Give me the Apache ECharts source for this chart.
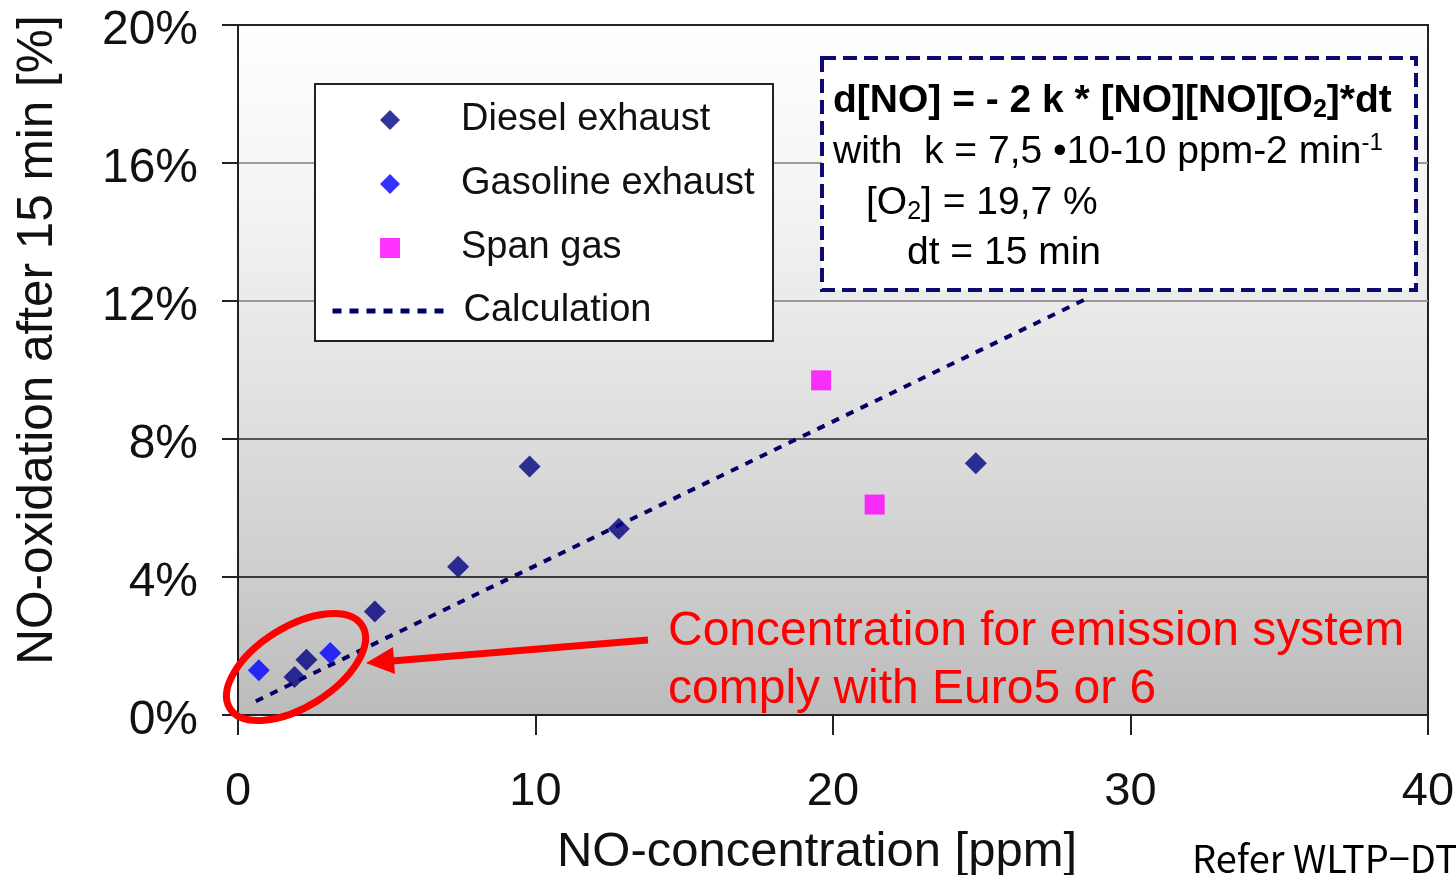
<!DOCTYPE html>
<html><head><meta charset="utf-8">
<script src="https://cdn.jsdelivr.net/npm/echarts@6/dist/echarts.min.js"></script>
<style>html,body{margin:0;padding:0;background:#fff;} #c{width:1456px;height:875px;}</style>
</head><body><div id="c"></div>
<script>
// ---- data ----
const dieselX = [1.9, 2.3, 4.6, 7.4, 9.8, 12.8, 24.8];
const dieselY = [1.1, 1.6, 3.0, 4.3, 7.2, 5.4, 7.3];
const gasolineX = [0.7, 3.1];
const gasolineY = [1.3, 1.8];
const spanX = [19.6, 21.4];
const spanY = [9.7, 6.1];
const calcX = [0.6, 28.6];
const calcY = [0.4, 12.1];
const seriesNames = ['Diesel exhaust', 'Gasoline exhaust', 'Span gas', 'Calculation'];
const xName = 'NO-concentration [ppm]';
const yName = 'NO-oxidation after 15 min [%]';

const FONT = '"Liberation Sans", Arial, sans-serif';
const pairs = (xs, ys) => xs.map((x, i) => [x, ys[i]]);

const chart = echarts.init(document.getElementById('c'), null, {renderer: 'canvas'});
const gridBg = new echarts.graphic.LinearGradient(0, 0, 0, 1, [
  {offset: 0, color: '#ffffff'},
  {offset: 0.25, color: '#f4f4f4'},
  {offset: 0.5, color: '#e4e4e4'},
  {offset: 0.78, color: '#cfcfcf'},
  {offset: 1, color: '#bbbbbb'}
]);
const legendText = {fontSize: 38, color: '#111', lineHeight: 40};

const option = {
  animation: false,
  textStyle: {fontFamily: FONT},
  grid: {left: 238, right: 28, top: 25, bottom: 160, show: true, outerBoundsMode: 'none', containLabel: false,
         backgroundColor: gridBg, borderColor: '#222', borderWidth: 2},
  xAxis: {
    type: 'value', min: 0, max: 40, interval: 10,
    name: xName, nameLocation: 'middle', nameGap: 113,
    nameTextStyle: {fontSize: 49, color: '#111', padding: [0, 32, 0, 0]},
    axisLine: {lineStyle: {color: '#222', width: 2}},
    axisTick: {show: true, length: 20, lineStyle: {color: '#222', width: 2}},
    axisLabel: {fontSize: 47, color: '#111', margin: 54},
    splitLine: {show: false}
  },
  yAxis: {
    type: 'value', min: 0, max: 20, interval: 4,
    name: yName, nameLocation: 'middle', nameRotate: 90, nameGap: 175,
    nameTextStyle: {fontSize: 49.5, color: '#111', padding: [0, 0, 0, 60]},
    axisLine: {show: true, lineStyle: {color: '#222', width: 2}},
    axisTick: {show: true, length: 16, lineStyle: {color: '#222', width: 2}},
    axisLabel: {color: '#111', margin: 40, formatter: '{v|{value}%}',
                rich: {v: {fontSize: 48, color: '#111', fontFamily: FONT, padding: [12, 0, 0, 0]}}},
    splitLine: {show: true, lineStyle: {color: ['#333', '#3a3a3a', '#555', '#999', '#9a9a9a', '#222'], width: 2}}
  },
  legend: [
    {
      orient: 'vertical', left: 380, top: 100, padding: 0,
      itemWidth: 20, itemHeight: 20, itemGap: 24,
      textStyle: Object.assign({padding: [0, 0, 0, 56]}, legendText),
      data: [
        {name: seriesNames[0], icon: 'diamond'},
        {name: seriesNames[1], icon: 'diamond'},
        {name: seriesNames[2], icon: 'rect'}
      ],
      selectedMode: false, z: 10
    },
    {
      orient: 'vertical', left: 330, top: 291, padding: 0,
      itemWidth: 115, itemHeight: 16,
      textStyle: Object.assign({padding: [0, 0, 0, 11]}, legendText),
      data: [
        {name: seriesNames[3], itemStyle: {opacity: 0}, lineStyle: {width: 5, type: [9, 8], color: '#000066'}}
      ],
      selectedMode: false, z: 10
    }
  ],
  series: [
    {name: seriesNames[0], type: 'scatter', symbol: 'diamond', symbolSize: 22,
     itemStyle: {color: '#000080'}, data: pairs(dieselX, dieselY), z: 5},
    {name: seriesNames[1], type: 'scatter', symbol: 'diamond', symbolSize: 22,
     itemStyle: {color: '#0000ff'}, data: pairs(gasolineX, gasolineY), z: 6},
    {name: seriesNames[2], type: 'scatter', symbol: 'rect', symbolSize: 20,
     itemStyle: {color: '#ff00ff'}, data: pairs(spanX, spanY), z: 5},
    {name: seriesNames[3], type: 'line', symbol: 'none', showSymbol: false,
     lineStyle: {type: [8, 8], width: 4, color: '#000066'}, itemStyle: {color: '#000066'},
     data: pairs(calcX, calcY), z: 3}
  ],
  graphic: [
    {type: 'rect', z: 1, shape: {x: 315, y: 84, width: 458, height: 257},
     style: {fill: '#fff', stroke: '#222', lineWidth: 2}},
    {type: 'rect', z: 100, shape: {x: 822, y: 58, width: 594, height: 232},
     style: {fill: '#fff', stroke: '#0b0b70', lineWidth: 4, lineDash: [14, 7]}},
    {type: 'text', z: 101, x: 833, y: 101,
     style: {text: '{b|d[NO] = - 2 k * [NO][NO][O}{bs|2}{b|]*dt}', verticalAlign: 'middle', fill: '#000',
       rich: {b: {fontSize: 39, fontWeight: 'bold', fontFamily: FONT, fill: '#000'},
              bs: {fontSize: 25, fontWeight: 'bold', fontFamily: FONT, fill: '#000', padding: [18, 0, 0, 0]}}}},
    {type: 'text', z: 101, x: 833, y: 152,
     style: {text: '{n|with  k = 7,5 •10-10 ppm-2 min}{s|-1}', verticalAlign: 'middle', fill: '#000',
       rich: {n: {fontSize: 39, fontFamily: FONT, fill: '#000'},
              s: {fontSize: 24, fontFamily: FONT, fill: '#000', padding: [0, 0, 18, 0]}}}},
    {type: 'text', z: 101, x: 866, y: 203,
     style: {text: '{n|[O}{s|2}{n|] = 19,7 %}', verticalAlign: 'middle', fill: '#000',
       rich: {n: {fontSize: 39, fontFamily: FONT, fill: '#000'},
              s: {fontSize: 25, fontFamily: FONT, fill: '#000', padding: [18, 0, 0, 0]}}}},
    {type: 'text', z: 101, x: 907, y: 253,
     style: {text: 'dt = 15 min', verticalAlign: 'middle', fill: '#000', font: '39px ' + FONT}},
    {type: 'ellipse', z: 50, x: 296, y: 667, rotation: 32 * Math.PI / 180,
     shape: {cx: 0, cy: 0, rx: 78, ry: 40},
     style: {fill: 'none', stroke: '#ff0000', lineWidth: 7}},
    {type: 'line', z: 50, shape: {x1: 648, y1: 640, x2: 392, y2: 661},
     style: {stroke: '#ff0000', lineWidth: 7}},
    {type: 'polygon', z: 50, shape: {points: [[366, 663], [395, 674], [393, 647]]},
     style: {fill: '#ff0000'}},
    {type: 'text', z: 50, x: 668, y: 632,
     style: {text: 'Concentration for emission system', verticalAlign: 'middle', fill: '#ff0000', font: '48px ' + FONT}},
    {type: 'text', z: 50, x: 668, y: 690,
     style: {text: 'comply with Euro5 or 6', verticalAlign: 'middle', fill: '#ff0000', font: '48px ' + FONT}},
    {type: 'text', z: 50, x: 1192, y: 859,
     style: {text: 'Refer WLTP−DTP', verticalAlign: 'middle', fill: '#000', font: '38px "Noto Sans CJK JP", ' + FONT}}
  ]
};
chart.setOption(option);
</script>
</body></html>
